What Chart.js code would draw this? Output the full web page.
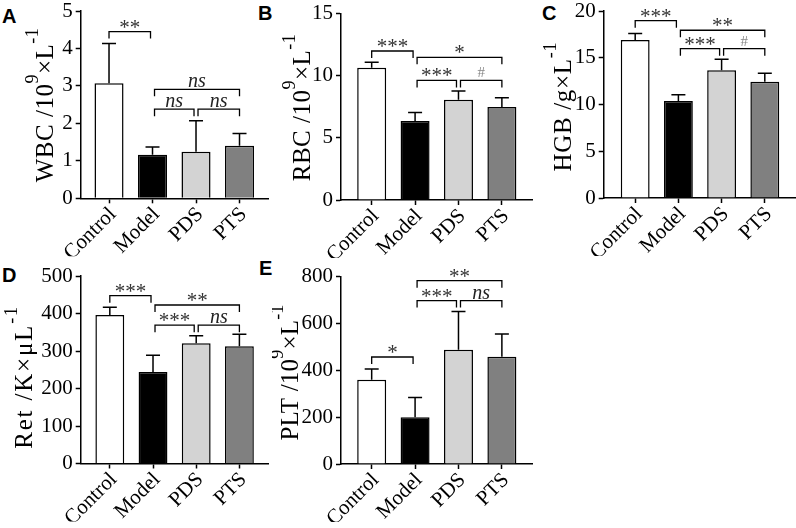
<!DOCTYPE html>
<html>
<head>
<meta charset="utf-8">
<script src="https://cdn.jsdelivr.net/npm/chart.js@4.4.1/dist/chart.umd.min.js"></script>
<style>
  html, body { margin: 0; padding: 0; background: #fff; }
  body { width: 796px; height: 528px; position: relative; overflow: hidden; }
  canvas { position: absolute; }
  .tag { position: absolute; font: bold 20px 'Liberation Sans', Arial, sans-serif; line-height: 1; color: #000; }
</style>
</head>
<body>
<div class="tag" style="left:2px;top:6px">A</div>
<div class="tag" style="left:258px;top:3px">B</div>
<div class="tag" style="left:542px;top:3px">C</div>
<div class="tag" style="left:2px;top:265px">D</div>
<div class="tag" style="left:259px;top:258px">E</div>
<canvas id="chart-a"></canvas>
<canvas id="chart-b"></canvas>
<canvas id="chart-c"></canvas>
<canvas id="chart-d"></canvas>
<canvas id="chart-e"></canvas>
<script>
/* Groups shown on every panel */
const groups = ['Control', 'Model', 'PDS', 'PTS'];
const groupIdx = [0, 1, 2, 3];

/* A - WBC */
const wbcMean = [3.07, 1.16, 1.24, 1.40];
const wbcSd = [1.06, 0.21, 0.83, 0.33];
const wbcTicks = [0, 1, 2, 3, 4, 5];
const wbcSig = [[0, 1, 4.45, '**'], [1, 3, 2.91, 'ns'], [1, 2, 2.38, 'ns'], [2, 3, 2.38, 'ns']];
const wbcTitle = [['WBC /10', 0], ['9', 1], ['×L', 0], ['-1', 1]];

/* B - RBC */
const rbcMean = [10.63, 6.35, 8.06, 7.47];
const rbcSd = [0.43, 0.69, 0.70, 0.75];
const rbcTicks = [0, 5, 10, 15];
const rbcSig = [[0, 1, 11.97, '***'], [1, 3, 11.46, '*'], [1, 2, 9.61, '***'], [2, 3, 9.61, '#']];
const rbcTitle = [['RBC /10', 0], ['9', 1], ['×L', 0], ['-1', 1]];

/* C - HGB */
const hgbMean = [16.9, 10.37, 13.66, 12.44];
const hgbSd = [0.70, 0.68, 1.17, 0.89];
const hgbTicks = [0, 5, 10, 15, 20];
const hgbSig = [[0, 1, 18.96, '***'], [1, 3, 17.94, '**'], [1, 2, 15.97, '***'], [2, 3, 15.97, '#']];
const hgbTitle = [['HGB /g×L', 0], ['-1', 1]];

/* D - Ret */
const retMean = [396, 244, 321, 313];
const retSd = [20.5, 44.5, 20, 31.5];
const retTicks = [0, 100, 200, 300, 400, 500];
const retSig = [[0, 1, 447.5, '***'], [1, 3, 422.7, '**'], [1, 2, 369, '***'], [2, 3, 369, 'ns']];
const retTitle = [['Ret /K×μL', 0], ['-1', 1]];

/* E - PLT */
const pltMean = [360, 200, 488, 458];
const pltSd = [46, 84, 163, 97];
const pltTicks = [0, 200, 400, 600, 800];
const pltSig = [[0, 1, 457, '*'], [1, 3, 783, '**'], [1, 2, 698, '***'], [2, 3, 698, 'ns']];
const pltTitle = [['PLT /10', 0], ['9', 1], ['×L', 0], ['-1', 1]];

const barColors = ['#ffffff', '#000000', '#d3d3d3', '#808080'];
const SERIF = "'Liberation Serif', 'Times New Roman', serif";

/* Panel layout: canvas box and chart area in page pixels */
const panels = [
    { id: 'chart-a', box: [0, 0, 270, 262], area: [80.7, 11, 268, 198.3], x: [-0.651, 3.655],
      mean: wbcMean, sd: wbcSd, ticks: wbcTicks, sig: wbcSig, title: wbcTitle, titleAt: [53, 105], spacing: 0.5 },
    { id: 'chart-b', box: [272, 0, 262, 262], area: [341, 13.3, 532, 200], x: [-0.707, 3.694],
      mean: rbcMean, sd: rbcSd, ticks: rbcTicks, sig: rbcSig, title: rbcTitle, titleAt: [310, 107.5], spacing: 0.5 },
    { id: 'chart-c', box: [536, 0, 260, 262], area: [603.7, 11, 795, 198], x: [-0.729, 3.699],
      mean: hgbMean, sd: hgbSd, ticks: hgbTicks, sig: hgbSig, title: hgbTitle, titleAt: [571, 106.7], spacing: 0.7 },
    { id: 'chart-d', box: [0, 264, 270, 264], area: [80.7, 276, 268.3, 463.5], x: [-0.674, 3.669],
      mean: retMean, sd: retSd, ticks: retTicks, sig: retSig, title: retTitle, titleAt: [32, 377], spacing: 1.8 },
    { id: 'chart-e', box: [272, 264, 262, 264], area: [341, 276.7, 532, 464], x: [-0.707, 3.694],
      mean: pltMean, sd: pltSd, ticks: pltTicks, sig: pltSig, title: pltTitle, titleAt: [298, 372.5], spacing: 0.2 }
];

/* Rotated y title with superscripts */
function drawTitle(ctx, parts, x, y, spacing) {
    const big = '25px ' + SERIF, small = '18px ' + SERIF;
    ctx.save();
    if ('letterSpacing' in ctx) ctx.letterSpacing = spacing + 'px';
    let total = 0;
    const widths = parts.map(([t, sup]) => {
        ctx.font = sup ? small : big;
        const w = ctx.measureText(t).width;
        total += w;
        return w;
    });
    ctx.translate(x, y);
    ctx.rotate(-Math.PI / 2);
    ctx.fillStyle = '#000';
    ctx.textBaseline = 'alphabetic';
    ctx.textAlign = 'left';
    let cx = -total / 2;
    parts.forEach(([t, sup], k) => {
        ctx.font = sup ? small : big;
        ctx.fillText(t, cx, sup ? -15 : 0);
        cx += widths[k];
    });
    ctx.restore();
}

/* Error bars, significance brackets and the axis title */
function makeExtras(p) {
    return {
        id: 'extras',
        afterDatasetsDraw(chart) {
            const ctx = chart.ctx;
            const xs = chart.scales.x, ys = chart.scales.y;
            ctx.save();
            ctx.strokeStyle = '#000';
            ctx.lineWidth = 1.5;
            p.mean.forEach((m, i) => {
                const x = xs.getPixelForValue(i);
                const y0 = ys.getPixelForValue(m);
                const y1 = ys.getPixelForValue(m + p.sd[i]);
                ctx.beginPath();
                ctx.moveTo(x, y0);
                ctx.lineTo(x, y1);
                ctx.moveTo(x - 7, y1);
                ctx.lineTo(x + 7, y1);
                ctx.stroke();
            });

            ctx.lineWidth = 1.3;
            ctx.textAlign = 'center';
            ctx.textBaseline = 'alphabetic';
            p.sig.forEach(([i, j, level, label]) => {
                const x1 = xs.getPixelForValue(i) + (i > 0 ? 2 : 0);
                const x2 = xs.getPixelForValue(j) - (j < 3 ? 2 : 0);
                const y = ys.getPixelForValue(level);
                ctx.beginPath();
                ctx.moveTo(x1, y + 7);
                ctx.lineTo(x1, y);
                ctx.lineTo(x2, y);
                ctx.lineTo(x2, y + 7);
                ctx.stroke();

                const mid = (x1 + x2) / 2;
                if (label === 'ns') {
                    ctx.font = 'italic 20px ' + SERIF;
                    ctx.fillStyle = '#222';
                    ctx.fillText(label, mid, y - 2);
                } else if (label === '#') {
                    ctx.font = '15px ' + SERIF;
                    ctx.fillStyle = '#888';
                    ctx.fillText(label, mid, y - 3);
                } else {
                    ctx.font = '21px ' + SERIF;
                    ctx.fillStyle = '#333';
                    ctx.fillText(label, mid, y + 2);
                }
            });
            ctx.restore();
        },
        afterDraw(chart) {
            drawTitle(chart.ctx, p.title, p.titleAt[0] - p.box[0], p.titleAt[1] - p.box[1], p.spacing);
        }
    };
}

function buildPanel(p) {
    const [bx, by, bw, bh] = p.box;
    const [L, T, R, B] = p.area;
    const yW = 50, xH = 58;
    const canvas = document.getElementById(p.id);
    canvas.width = bw;
    canvas.height = bh;
    canvas.style.left = bx + 'px';
    canvas.style.top = by + 'px';

    const axisLine = { display: true, color: '#000', width: 1.5 };
    const gridOpts = { drawOnChartArea: false, offset: false, color: '#000', tickColor: '#000', tickWidth: 1.5, tickLength: 5 };

    return new Chart(canvas, {
        type: 'bar',
        data: {
            datasets: [{
                data: p.mean.map((v, i) => ({ x: groupIdx[i], y: v })),
                backgroundColor: barColors,
                borderColor: '#000',
                borderWidth: 1.5,
                barPercentage: 0.668,
                categoryPercentage: 1
            }]
        },
        options: {
            responsive: false,
            devicePixelRatio: 1,
            animation: false,
            events: [],
            layout: { padding: { left: L - bx - yW, top: T - by, right: bx + bw - R, bottom: by + bh - B - xH } },
            plugins: { legend: { display: false }, tooltip: { enabled: false } },
            scales: {
                x: {
                    type: 'linear',
                    min: p.x[0],
                    max: p.x[1],
                    offset: false,
                    grid: gridOpts,
                    border: axisLine,
                    afterBuildTicks: s => { s.ticks = groupIdx.map(v => ({ value: v })); },
                    afterFit: s => { s.height = xH; s.paddingLeft = 0; s.paddingRight = 0; },
                    ticks: {
                        autoSkip: false,
                        minRotation: 45,
                        maxRotation: 45,
                        padding: -1,
                        labelOffset: 4,
                        color: '#000',
                        font: { family: SERIF, size: 21 },
                        callback: v => groups[v]
                    }
                },
                y: {
                    min: 0,
                    max: p.ticks[p.ticks.length - 1],
                    grid: gridOpts,
                    border: axisLine,
                    afterBuildTicks: s => { s.ticks = p.ticks.map(v => ({ value: v })); },
                    afterFit: s => { s.width = yW; s.paddingTop = 0; s.paddingBottom = 0; },
                    ticks: {
                        padding: 3,
                        color: '#000',
                        font: { family: SERIF, size: 21 }
                    }
                }
            }
        },
        plugins: [makeExtras(p)]
    });
}

panels.forEach(buildPanel);
</script>
</body>
</html>
